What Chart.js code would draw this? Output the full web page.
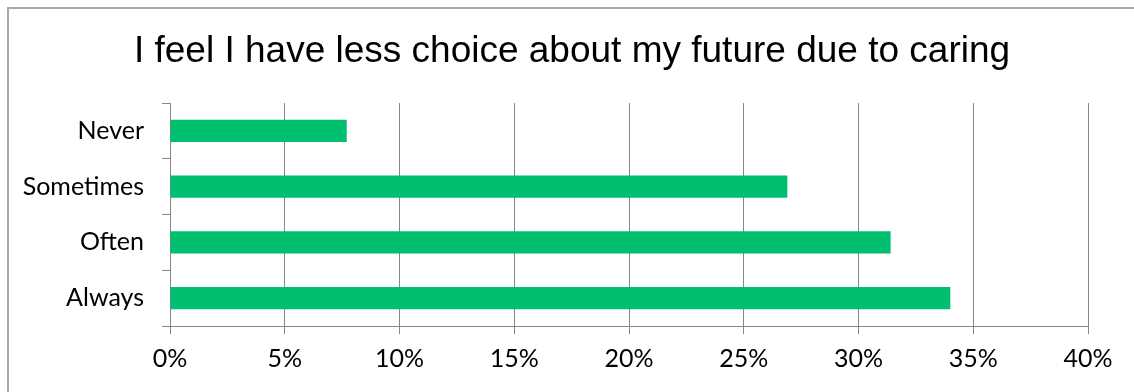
<!DOCTYPE html>
<html>
<head>
<meta charset="utf-8">
<script src="https://cdn.jsdelivr.net/npm/chart.js@4"></script>
<style>
    body { margin: 0; background: #fff; overflow: hidden; }
    #frame { position: absolute; left: 7px; top: 7px; width: 1300px; height: 600px;
             border-left: 2px solid #a9a9a9; border-top: 2px solid #a9a9a9; }
    #chart { position: absolute; left: 0; top: 0; }
</style>
</head>
<body>
<div id="frame"></div>
<canvas id="chart" width="1134" height="392"></canvas>
<script>
const chartTitle = 'I feel I have less choice about my future due to caring';
const categories = ['Never', 'Sometimes', 'Often', 'Always'];
const percentages = [7.7, 26.9, 31.4, 34.0];
const axisMax = 40;
const axisStep = 5;

const gridGray = '#878787';
const labelFont = { family: 'Lato', size: 25 };

// the title sits a bit right of the plot centre, so draw it ourselves
const titlePlugin = {
    id: 'offsetTitle',
    afterDraw(chart) {
        const c = chart.ctx;
        c.save();
        c.font = '37px "Liberation Sans"';
        c.fillStyle = '#000';
        c.textAlign = 'center';
        c.textBaseline = 'alphabetic';
        c.fillText(chartTitle, 572, 62);
        c.restore();
    }
};

document.addEventListener('DOMContentLoaded', function() {
    const ctx = document.getElementById('chart').getContext('2d');
    new Chart(ctx, {
        type: 'bar',
        data: {
            labels: categories,
            datasets: [{
                data: percentages,
                backgroundColor: '#00BF6F',
                categoryPercentage: 1,
                barPercentage: 0.4
            }]
        },
        options: {
            indexAxis: 'y',
            responsive: false,
            animation: false,
            layout: { padding: { top: 103, left: 0, right: 46, bottom: 0 } },
            plugins: {
                legend: { display: false },
                tooltip: { enabled: false },
                title: { display: false }
            },
            scales: {
                x: {
                    min: 0,
                    max: axisMax,
                    ticks: {
                        stepSize: axisStep,
                        color: '#000',
                        font: labelFont,
                        padding: 10,
                        maxRotation: 0,
                        callback: v => v + '%'
                    },
                    grid: { color: gridGray, lineWidth: 1, tickLength: 8 },
                    border: { color: gridGray },
                    afterFit: s => { s.height = 66; }
                },
                y: {
                    ticks: { color: '#000', font: labelFont, padding: 18 },
                    grid: { drawOnChartArea: false, color: gridGray, tickLength: 8, offset: true },
                    border: { color: gridGray },
                    afterFit: s => { s.width = 170; }
                }
            }
        },
        plugins: [titlePlugin]
    });
});
</script>
</body>
</html>
